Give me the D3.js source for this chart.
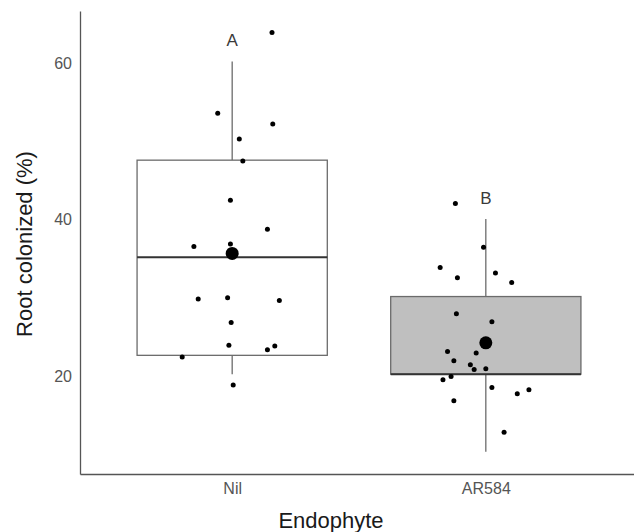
<!DOCTYPE html>
<html>
<head>
<meta charset="utf-8">
<script src="https://cdn.jsdelivr.net/npm/d3@7"></script>
<style>
  body { margin: 0; background: #fff; }
  svg { font-family: "Liberation Sans", Arial, sans-serif; }
</style>
</head>
<body>
<div id="plot"></div>
<script>
"use strict";

var WIDTH = 634;
var HEIGHT = 532;

// Box summaries per group
var categories = ["Nil", "AR584"];
var whiskerLow = [20.3, 10.4];
var q1 = [22.7, 20.3];
var medians = [35.2, 20.3];
var q3 = [47.6, 30.2];
var whiskerHigh = [60.2, 40.1];
var means = [35.7, 24.3];
var letters = ["A", "B"];
var boxFills = ["#ffffff", "#bfbfbf"];

// Raw observations and their horizontal jitter (in category units)
var nilValues = [63.9, 53.6, 52.2, 50.3, 47.5, 42.5, 38.8, 36.6, 36.9,
    29.9, 30.05, 29.7, 26.9, 24.0, 23.9, 23.4, 22.5, 18.9];
var nilJitter = [0.157, -0.057, 0.16, 0.028, 0.042, -0.007, 0.139, -0.151, -0.007,
    -0.134, -0.018, 0.186, -0.004, -0.013, 0.168, 0.139, -0.197, 0.004];
var arValues = [42.06, 36.5, 33.9, 32.6, 33.2, 32.0, 28.0, 27.0, 23.2, 23.0, 22.0,
    21.5, 20.9, 21.0, 20.0, 19.6, 18.6, 17.8, 18.3, 16.9, 12.9];
var arJitter = [-0.12, -0.009, -0.18, -0.112, 0.038, 0.102, -0.116, 0.024, -0.151, -0.038, -0.126,
    -0.061, -0.046, 0.0, -0.137, -0.169, 0.024, 0.124, 0.17, -0.126, 0.072];

var yTicks = [20, 40, 60];

var points = [];
nilValues.forEach(function (v, i) { points.push({ g: 0, v: v, j: nilJitter[i] }); });
arValues.forEach(function (v, i) { points.push({ g: 1, v: v, j: arJitter[i] }); });

var svg = d3.select("#plot").append("svg")
    .attr("width", WIDTH)
    .attr("height", HEIGHT);

var scaleX = d3.scaleLinear().domain([0.4, 2.6]).range([80, 638]);
var scaleY = d3.scaleLinear().domain([7.56, 66.63]).range([474, 11]);
var BOX_HALF = 0.375;

// Boxes
categories.forEach(function (c, i) {
    var cx = scaleX(i + 1);
    // whiskers
    svg.append("line")
        .attr("x1", cx).attr("x2", cx)
        .attr("y1", scaleY(q3[i])).attr("y2", scaleY(whiskerHigh[i]))
        .attr("stroke", "#6b6b6b").attr("stroke-width", 1.3);
    svg.append("line")
        .attr("x1", cx).attr("x2", cx)
        .attr("y1", scaleY(q1[i])).attr("y2", scaleY(whiskerLow[i]))
        .attr("stroke", "#6b6b6b").attr("stroke-width", 1.3);
    svg.append("rect")
        .attr("x", scaleX(i + 1 - BOX_HALF))
        .attr("y", scaleY(q3[i]))
        .attr("width", scaleX(i + 1 + BOX_HALF) - scaleX(i + 1 - BOX_HALF))
        .attr("height", scaleY(q1[i]) - scaleY(q3[i]))
        .attr("fill", boxFills[i])
        .attr("stroke", "#6b6b6b")
        .attr("stroke-width", 1.3);
    svg.append("line")
        .attr("x1", scaleX(i + 1 - BOX_HALF)).attr("x2", scaleX(i + 1 + BOX_HALF))
        .attr("y1", scaleY(medians[i])).attr("y2", scaleY(medians[i]))
        .attr("stroke", "#333").attr("stroke-width", 2);
    // significance letter
    svg.append("text")
        .attr("x", cx)
        .attr("y", scaleY(whiskerHigh[i] + 2.7))
        .attr("dy", "0.36em")
        .attr("text-anchor", "middle")
        .attr("font-size", 17)
        .attr("fill", "#3a3a3a")
        .text(letters[i]);
});

// Jittered points
svg.selectAll("circle.obs").data(points).enter().append("circle")
    .attr("class", "obs")
    .attr("cx", function (d) { return scaleX(d.g + 1 + d.j); })
    .attr("cy", function (d) { return scaleY(d.v); })
    .attr("r", 2.5)
    .attr("fill", "#000");

// Means
svg.selectAll("circle.mean").data(means).enter().append("circle")
    .attr("class", "mean")
    .attr("cx", function (d, i) { return scaleX(i + 1); })
    .attr("cy", function (d) { return scaleY(d); })
    .attr("r", 6.5)
    .attr("fill", "#000");

// Axes
var yAxis = svg.append("g")
    .attr("transform", "translate(80,0)")
    .call(d3.axisLeft(scaleY).tickValues(yTicks).tickSize(0).tickPadding(8));
var xAxis = svg.append("g")
    .attr("transform", "translate(0,474)")
    .call(d3.axisBottom(scaleX).tickValues([1, 2])
        .tickFormat(function (d) { return categories[d - 1]; })
        .tickSize(0).tickPadding(9));

[yAxis, xAxis].forEach(function (ax) {
    ax.select(".domain").attr("stroke", "#555").attr("stroke-width", 1.3);
    ax.selectAll("text")
        .attr("font-size", 16)
        .attr("fill", "#555")
        .style("font-family", "Liberation Sans, Arial, sans-serif");
});

// Titles
svg.append("text")
    .attr("transform", "translate(32,244) rotate(-90)")
    .attr("text-anchor", "middle")
    .attr("font-size", 22)
    .attr("fill", "#1a1a1a")
    .text("Root colonized (%)");

svg.append("text")
    .attr("x", 331)
    .attr("y", 528)
    .attr("text-anchor", "middle")
    .attr("font-size", 22)
    .attr("fill", "#1a1a1a")
    .text("Endophyte");
</script>
</body>
</html>
